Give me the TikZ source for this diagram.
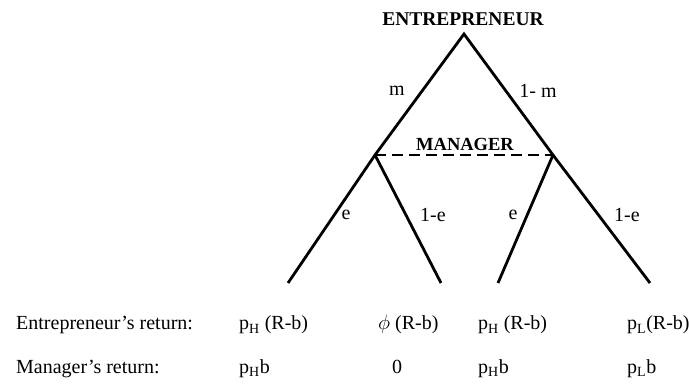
\documentclass[tikz,border=0pt]{standalone}
\usepackage{fontspec}
\setmainfont{Liberation Serif}
\begin{document}
\begin{tikzpicture}[x=1pt, y=-1pt, font=\fontsize{20}{23}\selectfont,
  branch/.style={line width=2.8pt},
  txt/.style={anchor=base west, inner sep=0pt}]
  \useasboundingbox (0,0) rectangle (689,385);

  % Points
  \coordinate (E) at (464,34);
  \coordinate (ML) at (375,155);
  \coordinate (MR) at (553,155);
  \coordinate (L1) at (288,283);
  \coordinate (L2) at (441,283);
  \coordinate (L3) at (498,283);
  \coordinate (L4) at (650,283);

  % Lines
  \draw[branch] (L1) -- (ML) -- (E) -- (MR) -- (L4);
  \draw[branch] (ML) -- (L2);
  \draw[branch] (MR) -- (L3);
  \draw[line width=1.8pt, dash pattern=on 11pt off 6pt] (ML) -- (MR);

  % Labels
  \node[font=\fontsize{19.5}{22}\selectfont\bfseries] (entr) at (463,19) {ENTREPRENEUR};
  \node[font=\fontsize{18.5}{21}\selectfont\bfseries] (mgr) at (465,144) {MANAGER};
  \node (m) at (397,91) {m};
  \node (onem) at (538,91) {1- m};
  \node (eL) at (346,215) {e};
  \node (oneeL) at (433,215) {1-e};
  \node (eR) at (513,215) {e};
  \node (oneeR) at (627,215) {1-e};

  % Returns
  \node[txt] (er) at (16,330) {Entrepreneur's return:};
  \node[txt] (er1) at (239,330) {p\textsubscript{H} (R-b)};
  \node[txt] (er2) at (378,330) {$\phi$ (R-b)};
  \node[txt] (er3) at (478,330) {p\textsubscript{H} (R-b)};
  \node[txt] (er4) at (627,330) {p\textsubscript{L}(R-b)};
  \node[txt] (mr) at (16,373) {Manager's return:};
  \node[txt] (mr1) at (239,373) {p\textsubscript{H}b};
  \node[txt] (mr2) at (392,373) {0};
  \node[txt] (mr3) at (478,373) {p\textsubscript{H}b};
  \node[txt] (mr4) at (627,373) {p\textsubscript{L}b};
\end{tikzpicture}
\end{document}
